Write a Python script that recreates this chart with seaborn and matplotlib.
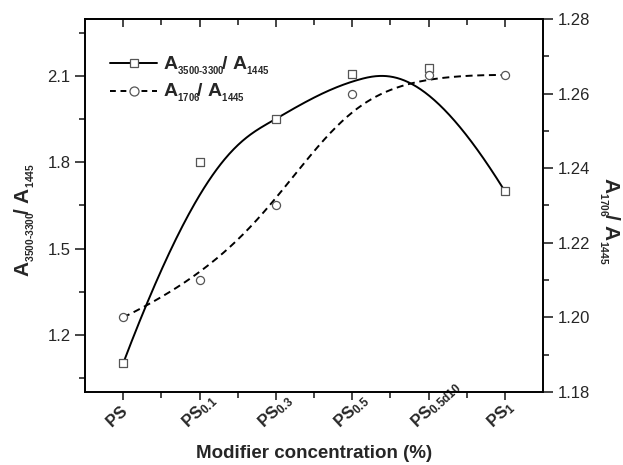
import numpy as np
import pandas as pd
import matplotlib
matplotlib.use("Agg")
import matplotlib.pyplot as plt
from matplotlib.lines import Line2D
from matplotlib.transforms import ScaledTranslation
from matplotlib.ticker import MultipleLocator, FixedLocator, FormatStrFormatter, NullFormatter
import seaborn as sns

# ---- data ----
categories = ["PS", "PS0.1", "PS0.3", "PS0.5", "PS0.5d10", "PS1"]
tick_subs = ["", "0.1", "0.3", "0.5", "0.5d10", "1"]
ratio_oh = [1.10, 1.80, 1.95, 2.11, 2.13, 1.70]        # A3500-3300 / A1445 (left axis)
ratio_co = [1.200, 1.210, 1.230, 1.260, 1.265, 1.265]  # A1706 / A1445 (right axis)

HY = "\u2010"


def sub(s):
    return r"{}_{\mathbf{" + s + r"}}"


tick_labels = [r"$\mathbf{PS}" + (sub(s) if s else "") + "$" for s in tick_subs]
label_oh = r"$\mathbf{A}_{" + sub("3500" + HY + "3300") + r"}\!\mathbf{/\ A}_{" + sub("1445") + "}$"
label_co = r"$\mathbf{A}_{" + sub("1706") + r"}\!\mathbf{/\ A}_{" + sub("1445") + "}$"


def bspline(cx, cy, n=400, k=3):
    """Clamped uniform cubic B-spline using the data points as control points."""
    cx = np.asarray(cx, float)
    cy = np.asarray(cy, float)
    m = len(cx)
    knots = np.concatenate([np.zeros(k), np.linspace(0, 1, m - k + 1), np.ones(k)])
    t = np.linspace(0, 1, n)
    N = np.zeros((n, len(knots) - 1))
    for i in range(len(knots) - 1):
        N[:, i] = (knots[i] <= t) & (t < knots[i + 1])
    last = np.max(np.nonzero(knots[:-1] < knots[1:]))
    N[t == 1.0, last] = 1.0
    for d in range(1, k + 1):
        Nn = np.zeros((n, len(knots) - 1 - d))
        for i in range(len(knots) - 1 - d):
            a = np.zeros(n)
            b = np.zeros(n)
            den1 = knots[i + d] - knots[i]
            den2 = knots[i + d + 1] - knots[i + 1]
            if den1 > 0:
                a = (t - knots[i]) / den1 * N[:, i]
            if den2 > 0:
                b = (knots[i + d + 1] - t) / den2 * N[:, i + 1]
            Nn[:, i] = a + b
        N = Nn
    return N @ cx, N @ cy


sns.set_theme(style="ticks")
plt.rcParams["font.family"] = ["Liberation Sans", "DejaVu Sans"]
plt.rcParams["mathtext.fontset"] = "custom"
plt.rcParams["mathtext.rm"] = "Liberation Sans"
plt.rcParams["mathtext.bf"] = "Liberation Sans:bold"
plt.rcParams["mathtext.it"] = "Liberation Sans:italic"
plt.rcParams["axes.linewidth"] = 1.2

fig = plt.figure(figsize=(6.23, 4.65), dpi=100)
ax = fig.add_axes([85 / 623, 1 - 392 / 465, (543 - 85) / 623, (392 - 19) / 465])
ax2 = ax.twinx()

xpos = np.arange(len(categories))
df = pd.DataFrame({"x": xpos, "oh": ratio_oh, "co": ratio_co})

sx, sy = bspline(xpos, ratio_oh)
sx2, sy2 = bspline(xpos, ratio_co)

sns.lineplot(x=sx, y=sy, ax=ax, color="black", linewidth=1.4, sort=False)
sns.scatterplot(data=df, x="x", y="oh", ax=ax, marker="s", s=30, facecolor="white",
                edgecolor="#555555", linewidth=0.9, zorder=3)
sns.lineplot(x=sx2, y=sy2, ax=ax2, color="black", linewidth=1.4, sort=False,
             linestyle=(0, (3.6, 2.4)))
sns.scatterplot(data=df, x="x", y="co", ax=ax2, marker="o", s=34, facecolor="white",
                edgecolor="#555555", linewidth=0.9, zorder=3)

ax.set_xlim(-0.5, 5.5)
ax.set_ylim(1.0, 2.3)
ax2.set_ylim(1.18, 1.28)

ax.yaxis.set_major_locator(FixedLocator([1.2, 1.5, 1.8, 2.1]))
ax.yaxis.set_minor_locator(FixedLocator([1.05, 1.35, 1.65, 1.95, 2.25]))
ax.yaxis.set_major_formatter(FormatStrFormatter("%.1f"))
ax2.yaxis.set_major_locator(MultipleLocator(0.02))
ax2.yaxis.set_minor_locator(MultipleLocator(0.01))
ax2.yaxis.set_major_formatter(FormatStrFormatter("%.2f"))

ax.set_xticks(xpos)
ax.set_xticklabels(tick_labels, rotation=43, ha="left", va="baseline", rotation_mode="anchor")
ax.xaxis.set_minor_locator(FixedLocator(xpos[:-1] + 0.5))
ax.tick_params(axis="x", which="both", labelsize=12)
ax.tick_params(axis="x", which="major", direction="out", length=6, width=1.2, pad=20)
ax.tick_params(axis="x", which="minor", direction="out", length=4, width=1.2)
ax.tick_params(axis="y", which="major", direction="out", length=7, width=1.2, labelsize=12)
ax.tick_params(axis="y", which="minor", direction="out", length=4, width=1.2)
ax2.tick_params(axis="y", which="major", direction="out", length=7, width=1.2, labelsize=12)
ax2.tick_params(axis="y", which="minor", direction="out", length=4, width=1.2)

offset = ScaledTranslation(-12 / 100, 0, fig.dpi_scale_trans)
for lbl in ax.get_xticklabels():
    lbl.set_transform(lbl.get_transform() + offset)

# top axis: ticks pointing inward, no labels
top = ax.secondary_xaxis("top")
top.set_xticks(xpos)
top.xaxis.set_minor_locator(FixedLocator(xpos[:-1] + 0.5))
top.xaxis.set_major_formatter(NullFormatter())
top.tick_params(axis="x", which="major", direction="in", length=6, width=1.2)
top.tick_params(axis="x", which="minor", direction="in", length=4, width=1.2)
top.spines["top"].set_linewidth(1.2)

for a in (ax, ax2):
    for sp in a.spines.values():
        sp.set_visible(True)
        sp.set_linewidth(1.2)
        sp.set_color("black")

ax.set_xlabel("Modifier concentration (%)", fontsize=13.5, fontweight="bold", va="top")
ax.xaxis.set_label_coords(0.5, -0.142)
ax.set_ylabel(label_oh, fontsize=15)
ax.yaxis.set_label_coords(-0.105, 0.46)
ax2.set_ylabel(label_co, fontsize=15, rotation=-90, va="bottom")
ax2.yaxis.set_label_coords(1.118, 0.46)

handles = [
    Line2D([], [], color="black", linewidth=1.4, marker="s", markersize=6,
           markerfacecolor="white", markeredgecolor="#555555", markeredgewidth=0.9),
    Line2D([], [], color="black", linewidth=1.4, linestyle=(0, (3.0, 2.4)), marker="o", markersize=6.5,
           markerfacecolor="white", markeredgecolor="#555555", markeredgewidth=0.9),
]
ax.legend(handles, [label_oh, label_co], loc="upper left", bbox_to_anchor=(0.055, 0.905), frameon=False,
          fontsize=14, handlelength=2.4, handletextpad=0.3, labelspacing=0.3, borderaxespad=0.0,
          borderpad=0.0)

fig.savefig("out.png", dpi=100)
